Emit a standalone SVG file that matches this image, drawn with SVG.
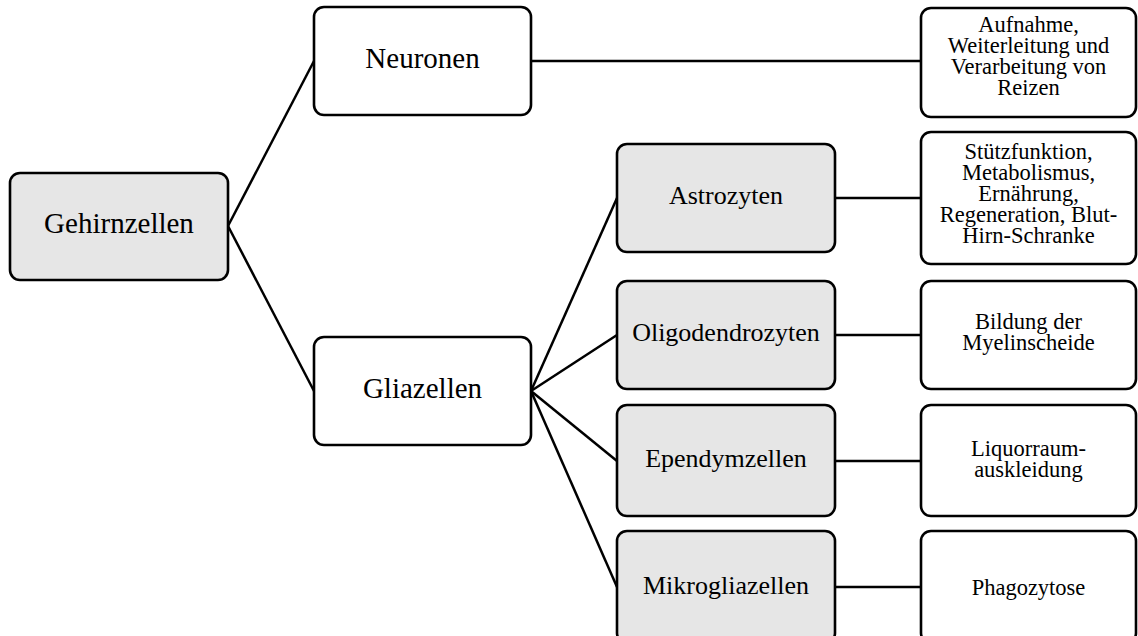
<svg xmlns="http://www.w3.org/2000/svg" width="1138" height="636" viewBox="0 0 1138 636">
<style>
.box{stroke:#000;stroke-width:2.6;}
.g{fill:#e6e6e6;}
.w{fill:#fff;}
text{font-family:"Liberation Serif","Times New Roman",serif;fill:#000;text-anchor:middle;}
.t1{font-size:29px;}
.t3{font-size:26px;}
.t4{font-size:22.5px;}
#connectors line{stroke:#000;stroke-width:2.5;fill:none;}
</style>
<rect width="1138" height="636" fill="#fff"/>
<g id="connectors">
<line x1="228" y1="226" x2="314" y2="61"/>
<line x1="228" y1="226" x2="314" y2="391"/>
<line x1="531" y1="61" x2="921" y2="61"/>
<line x1="531" y1="391" x2="617" y2="198"/>
<line x1="531" y1="391" x2="617" y2="335"/>
<line x1="531" y1="391" x2="617" y2="461"/>
<line x1="531" y1="391" x2="617" y2="587"/>
<line x1="835" y1="198" x2="921" y2="198"/>
<line x1="835" y1="335" x2="921" y2="335"/>
<line x1="835" y1="461" x2="921" y2="461"/>
<line x1="835" y1="587" x2="921" y2="587"/>
</g>
<g id="gehirnzellen"><rect class="box g" x="10" y="173" width="218" height="107" rx="10"/><text class="t1" x="119" y="233">Gehirnzellen</text></g>
<g id="neuronen"><rect class="box w" x="314" y="7" width="217" height="108" rx="10"/><text class="t1" x="422.5" y="68">Neuronen</text></g>
<g id="gliazellen"><rect class="box w" x="314" y="337" width="217" height="108" rx="10"/><text class="t1" x="422.5" y="398">Gliazellen</text></g>
<g id="astrozyten"><rect class="box g" x="617" y="144" width="218" height="108" rx="10"/><text class="t3" x="726" y="204">Astrozyten</text></g>
<g id="oligodendrozyten"><rect class="box g" x="617" y="281" width="218" height="108" rx="10"/><text class="t3" x="726" y="341">Oligodendrozyten</text></g>
<g id="ependymzellen"><rect class="box g" x="617" y="405" width="218" height="111" rx="10"/><text class="t3" x="726" y="467">Ependymzellen</text></g>
<g id="mikrogliazellen"><rect class="box g" x="617" y="531" width="218" height="112" rx="10"/><text class="t3" x="726" y="594">Mikrogliazellen</text></g>
<g id="aufnahme"><rect class="box w" x="921" y="8" width="215" height="109" rx="10"/>
<text class="t4" x="1028.5" y="32">Aufnahme,</text>
<text class="t4" x="1028.5" y="53">Weiterleitung und</text>
<text class="t4" x="1028.5" y="74">Verarbeitung von</text>
<text class="t4" x="1028.5" y="95">Reizen</text></g>
<g id="stuetzfunktion"><rect class="box w" x="921" y="132" width="215" height="132" rx="10"/>
<text class="t4" x="1028.5" y="159">Stützfunktion,</text>
<text class="t4" x="1028.5" y="180">Metabolismus,</text>
<text class="t4" x="1028.5" y="201">Ernährung,</text>
<text class="t4" x="1028.5" y="222">Regeneration, Blut-</text>
<text class="t4" x="1028.5" y="243">Hirn-Schranke</text></g>
<g id="bildung"><rect class="box w" x="921" y="281" width="215" height="108" rx="10"/>
<text class="t4" x="1028.5" y="329">Bildung der</text>
<text class="t4" x="1028.5" y="350">Myelinscheide</text></g>
<g id="liquorraum"><rect class="box w" x="921" y="405" width="215" height="111" rx="10"/>
<text class="t4" x="1028.5" y="456">Liquorraum-</text>
<text class="t4" x="1028.5" y="477">auskleidung</text></g>
<g id="phagozytose"><rect class="box w" x="921" y="531" width="215" height="112" rx="10"/>
<text class="t4" x="1028.5" y="595">Phagozytose</text></g>
</svg>
